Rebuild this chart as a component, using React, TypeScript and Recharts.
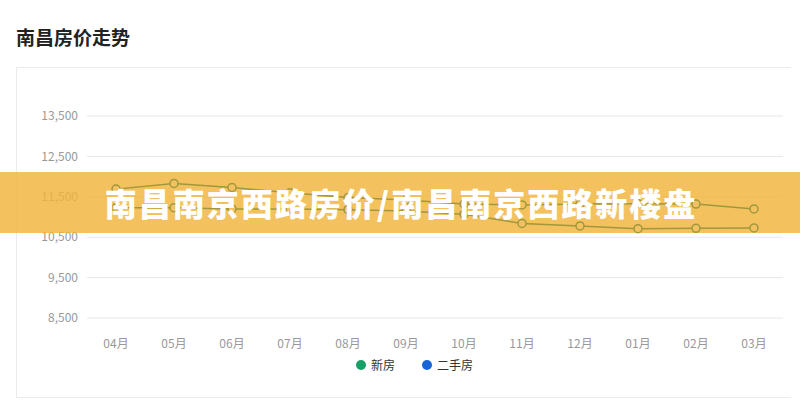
import React from 'react';
import { LineChart, Line, XAxis, YAxis, CartesianGrid, Legend } from 'recharts';

const months = ['04月', '05月', '06月', '07月', '08月', '09月', '10月', '11月', '12月', '01月', '02月', '03月'];
const newHouse = [11690, 11830, 11730, 11600, 11480, 11420, 11320, 11300, 11320, 11330, 11320, 11200];
const secondHand = [11230, 11230, 11200, 11200, 11180, 11150, 11070, 10840, 10780, 10710, 10720, 10730];
const yTicks = [8500, 9500, 10500, 11500, 12500, 13500];
const seriesNames = ['新房', '二手房'];
const legendColors = ['#16a065', '#1765d6'];
const lineColor = '#a0983c';
const titleText = '南昌房价走势';
const bannerText = '南昌南京西路房价/南昌南京西路新楼盘';

const data = months.map((m, i) => ({ month: m, nh: newHouse[i], sh: secondHand[i] }));

const FONT = '"Noto Sans CJK SC", "Noto Sans", sans-serif';

const renderLegend = (props: any) => {
  const payload = (props.payload || []).slice().sort(
    (a: any, b: any) => seriesNames.indexOf(a.value) - seriesNames.indexOf(b.value)
  );
  return (
    <div style={{ display: 'flex', alignItems: 'center', fontFamily: FONT, fontSize: 12, color: '#333', lineHeight: '16px' }}>
      {payload.map((p: any, i: number) => (
        <div key={i} style={{ display: 'flex', alignItems: 'center', marginRight: i === 0 ? 27 : 0 }}>
          <span style={{ display: 'inline-block', width: 10, height: 10, borderRadius: 5, background: legendColors[seriesNames.indexOf(p.value)], marginRight: 5 }} />
          <span>{p.value}</span>
        </div>
      ))}
    </div>
  );
};

export default function App() {
  return (
    <div style={{ position: 'absolute', left: 0, top: 0, width: 800, height: 407, background: '#fff', overflow: 'hidden', fontFamily: FONT }}>
      <div style={{ position: 'absolute', left: 16, top: 26, fontSize: 19, fontWeight: 700, color: '#222', lineHeight: '22px', letterSpacing: 0 }}>{titleText}</div>
      <div style={{ position: 'absolute', left: 16, top: 67, width: 774, height: 329, borderTop: '1px solid #ebebeb', borderLeft: '1px solid #ebebeb', borderBottom: '1px solid #ebebeb' }} />
      <div style={{ position: 'absolute', left: 0, top: 0 }}>
        <LineChart width={800} height={407} data={data} margin={{ top: 116, right: 17, bottom: 59, left: 0 }} style={{ fontFamily: FONT }}>
          <CartesianGrid vertical={false} stroke="#e8e8e8" />
          <XAxis dataKey="month" interval={0} tickLine={false} axisLine={false} height={30} tickMargin={15} padding={{ left: 29, right: 29 }} tick={{ fill: '#999', fontSize: 12 }} />
          <YAxis domain={[8500, 13500]} ticks={yTicks} width={87} tickLine={false} axisLine={false} tickMargin={3} tick={{ fill: '#999', fontSize: 12 }} tickFormatter={(v: number) => v.toLocaleString('en-US')} />
          <Legend layout="horizontal" verticalAlign="middle" align="center" content={renderLegend} wrapperStyle={{ top: 357, left: 356, width: 200, height: 16 }} />
          <Line dataKey="nh" name={seriesNames[0]} stroke={legendColors[0]} strokeOpacity={0} dot={false} isAnimationActive={false} />
          <Line dataKey="sh" name={seriesNames[1]} stroke={legendColors[1]} strokeOpacity={0} dot={false} isAnimationActive={false} />
        </LineChart>
      </div>
      <div style={{ position: 'absolute', left: 0, top: 172, width: 800, height: 61, background: 'rgba(240,180,60,0.82)' }} />
      <div style={{ position: 'absolute', left: 0, top: 0 }}>
        <LineChart width={800} height={407} data={data} margin={{ top: 116, right: 17, bottom: 89, left: 87 }}>
          <XAxis dataKey="month" hide padding={{ left: 29, right: 29 }} />
          <YAxis hide domain={[8500, 13500]} />
          <Line type="linear" dataKey="nh" name={seriesNames[0]} stroke={lineColor} strokeWidth={1.5} dot={{ r: 4, fill: '#f3c160', stroke: lineColor, strokeWidth: 1.5 }} isAnimationActive={false} />
          <Line type="linear" dataKey="sh" name={seriesNames[1]} stroke={lineColor} strokeWidth={1.5} dot={{ r: 4, fill: '#f3c160', stroke: lineColor, strokeWidth: 1.5 }} isAnimationActive={false} />
        </LineChart>
      </div>
      <div style={{ position: 'absolute', left: 0, top: 172, width: 800, height: 61, display: 'flex', alignItems: 'center', justifyContent: 'center', color: '#fff', fontSize: 32, fontWeight: 900, letterSpacing: 2, lineHeight: '61px', whiteSpace: 'nowrap', paddingLeft: 2, boxSizing: 'border-box' }}>{bannerText}</div>
    </div>
  );
}
